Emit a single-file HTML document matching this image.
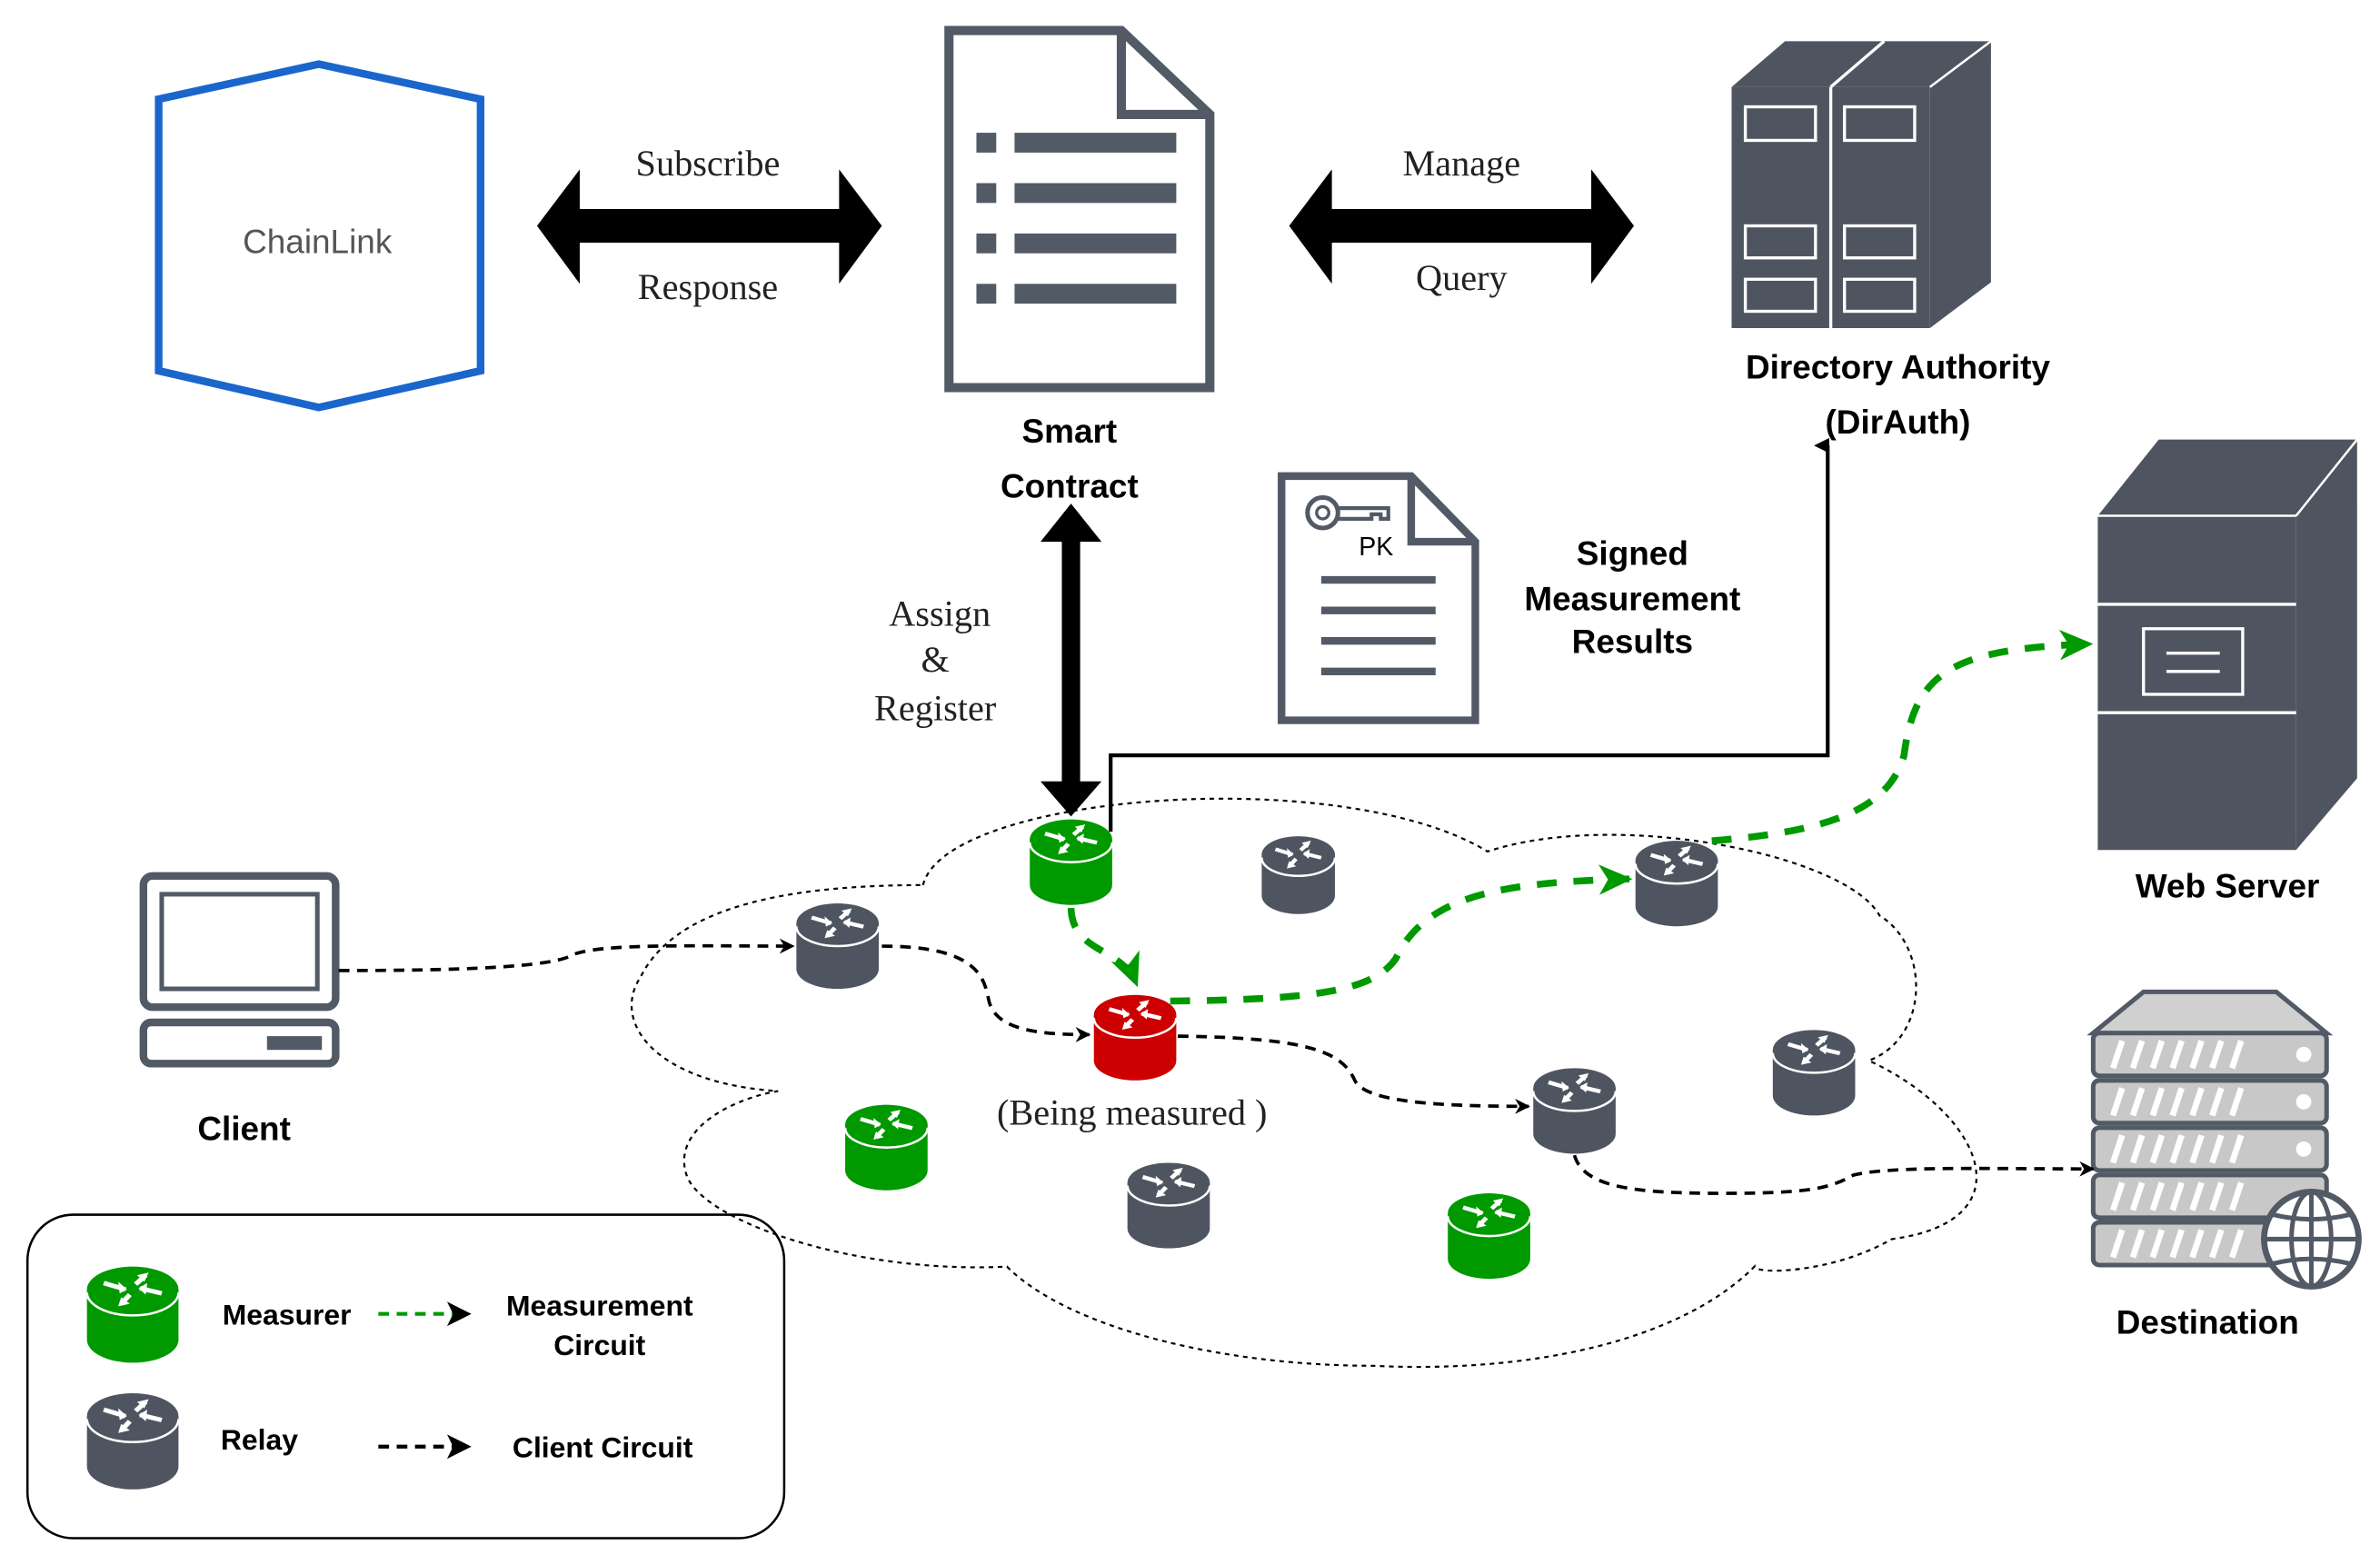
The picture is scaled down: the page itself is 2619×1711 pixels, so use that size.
<!DOCTYPE html>
<html><head><meta charset="utf-8"><style>
html,body{margin:0;padding:0;background:#fff;}
svg{display:block;}
.b{font-family:"Liberation Sans",sans-serif;font-weight:bold;fill:#000;text-anchor:middle;}
.s{font-family:"Liberation Serif",serif;fill:#222;text-anchor:middle;font-size:24px;}
</style></head><body>
<svg width="2619" height="1711" viewBox="0 0 1560 1019" preserveAspectRatio="none" xmlns="http://www.w3.org/2000/svg">
<defs>
<marker id="ak" markerWidth="10" markerHeight="10" refX="9" refY="5" orient="auto" markerUnits="userSpaceOnUse"><path d="M0,0 L10,5 L0,10 L3,5 Z" fill="#000"/></marker>
<marker id="ag" markerWidth="22" markerHeight="20" refX="20" refY="10" orient="auto" markerUnits="userSpaceOnUse"><path d="M0,0 L22,10 L0,20 L6,10 Z" fill="#009900"/></marker>
<marker id="ak2" markerWidth="16" markerHeight="16" refX="15" refY="8" orient="auto" markerUnits="userSpaceOnUse"><path d="M0,0 L16,8 L0,16 L4,8 Z" fill="#000"/></marker>
<marker id="ak3" markerWidth="10" markerHeight="10" refX="5" refY="9" orient="auto" markerUnits="userSpaceOnUse"><path d="M0,10 L5,0 L10,10 Z" fill="#000"/></marker>
<g id="arw" stroke="#fff" stroke-width="3.5" fill="#fff">
<line x1="-20" y1="-5" x2="-5" y2="0"/><path d="M-4,0 L-10,-6 L-9,3Z" stroke="none"/>
<line x1="20" y1="3" x2="5" y2="-1"/><path d="M4,-1 L10,-5 L9,4Z" stroke="none"/>
<line x1="2" y1="-4" x2="9" y2="-11"/><path d="M11,-13 L3,-11 L8,-6Z" stroke="none"/>
<line x1="-2" y1="4" x2="-8" y2="11"/><path d="M-10,13 L-2,11 L-8,6Z" stroke="none"/>
</g>
</defs>

<!-- ChainLink -->
<polygon points="104,65 209,42 315,65 315,243 209,267 104,243" fill="none" stroke="#1a66cc" stroke-width="5"/>
<text x="208" y="166" class="b" style="fill:#555;font-size:22px;font-weight:normal">ChainLink</text>

<!-- Subscribe arrow -->
<polygon points="352,148 380,111 380,137 550,137 550,111 578,148 550,186 550,159 380,159 380,186" fill="#000"/>
<text x="464" y="115" class="s">Subscribe</text>
<text x="464" y="196" class="s">Response</text>

<!-- Smart contract doc -->
<path d="M622,20 L735,20 L793,75 L793,254 L622,254 Z" fill="#fff" stroke="#525a66" stroke-width="6"/>
<path d="M735,20 L735,75 L793,75" fill="none" stroke="#525a66" stroke-width="6"/>
<g fill="#525a66">
<rect x="640" y="87" width="13" height="13"/><rect x="665" y="87" width="106" height="13"/>
<rect x="640" y="120" width="13" height="13"/><rect x="665" y="120" width="106" height="13"/>
<rect x="640" y="153" width="13" height="13"/><rect x="665" y="153" width="106" height="13"/>
<rect x="640" y="186" width="13" height="13"/><rect x="665" y="186" width="106" height="13"/>
</g>
<text x="701" y="290" class="b" font-size="22">Smart</text>
<text x="701" y="326" class="b" font-size="22">Contract</text>

<!-- Manage arrow -->
<polygon points="845,148 873,111 873,137 1043,137 1043,111 1071,148 1043,186 1043,159 873,159 873,186" fill="#000"/>
<text x="958" y="115" class="s">Manage</text>
<text x="958" y="190" class="s">Query</text>

<!-- DirAuth -->
<g fill="#4f5560">
<polygon points="1135,57 1170,27 1305,27 1265,57"/>
<polygon points="1265,57 1305,27 1305,185 1265,215"/>
<rect x="1135" y="57" width="130" height="158"/>
</g>
<polygon points="1200,57 1235,27" stroke="#fff" stroke-width="2" fill="none"/>
<line x1="1200" y1="57" x2="1200" y2="215" stroke="#fff" stroke-width="2"/>
<line x1="1265" y1="57" x2="1305" y2="27" stroke="#fff" stroke-width="1.5"/>
<g fill="none" stroke="#fff" stroke-width="2">
<rect x="1144" y="70" width="46" height="22"/><rect x="1209" y="70" width="46" height="22"/>
<rect x="1144" y="148" width="46" height="21"/><rect x="1209" y="148" width="46" height="21"/>
<rect x="1144" y="183" width="46" height="21"/><rect x="1209" y="183" width="46" height="21"/>
</g>
<text x="1244" y="248" class="b" font-size="22">Directory Authority</text>
<text x="1244" y="284" class="b" font-size="22">(DirAuth)</text>

<!-- vertical double arrow -->
<polygon points="702,330 722,355 708,355 708,512 722,512 702,535 682,512 696,512 696,355 682,355" fill="#000"/>
<text x="616" y="410" class="s" font-size="22">Assign</text>
<text x="613" y="440" class="s" font-size="22">&amp;</text>
<text x="613" y="472" class="s" font-size="22">Register</text>

<!-- PK doc -->
<path d="M840,312 L925,312 L967,355 L967,472 L840,472 Z" fill="#fff" stroke="#525a66" stroke-width="5"/>
<path d="M925,312 L925,355 L967,355" fill="none" stroke="#525a66" stroke-width="5"/>
<circle cx="867" cy="336" r="10" fill="none" stroke="#525a66" stroke-width="3"/>
<circle cx="867" cy="336" r="4" fill="none" stroke="#525a66" stroke-width="2"/>
<path d="M877,333 L910,333 L910,340 L905,340 L905,337 L899,337 L899,340 L877,340" fill="none" stroke="#525a66" stroke-width="2.5"/>
<text x="902" y="364" font-family="Liberation Sans,sans-serif" font-size="17" fill="#000" text-anchor="middle">PK</text>
<g stroke="#525a66" stroke-width="5">
<line x1="866" y1="380" x2="941" y2="380"/><line x1="866" y1="400" x2="941" y2="400"/>
<line x1="866" y1="420" x2="941" y2="420"/><line x1="866" y1="440" x2="941" y2="440"/>
</g>
<text x="1070" y="370" class="b" font-size="22">Signed</text>
<text x="1070" y="400" class="b" font-size="22">Measurement</text>
<text x="1070" y="428" class="b" font-size="22">Results</text>

<!-- line to DirAuth -->
<polyline points="728,545 728,495 1198,495 1198,292" fill="none" stroke="#000" stroke-width="2.5" marker-end="url(#ak3)"/>

<!-- Web server -->
<g fill="#4f5560">
<polygon points="1375,338 1415,288 1545,288 1505,338"/>
<polygon points="1505,338 1545,288 1545,510 1505,557"/>
<rect x="1375" y="338" width="130" height="219"/>
</g>
<line x1="1505" y1="338" x2="1545" y2="288" stroke="#fff" stroke-width="1.5"/>
<line x1="1375" y1="338" x2="1505" y2="338" stroke="#fff" stroke-width="1.5"/>
<line x1="1375" y1="396" x2="1505" y2="396" stroke="#fff" stroke-width="2"/>
<line x1="1375" y1="467" x2="1505" y2="467" stroke="#fff" stroke-width="2"/>
<rect x="1405" y="412" width="65" height="43" fill="none" stroke="#fff" stroke-width="2"/>
<line x1="1420" y1="428" x2="1455" y2="428" stroke="#fff" stroke-width="2"/>
<line x1="1420" y1="440" x2="1455" y2="440" stroke="#fff" stroke-width="2"/>
<text x="1460" y="588" class="b" font-size="22">Web Server</text>

<!-- Destination -->
<polygon points="1372,677 1405,650 1492,650 1525,677" fill="#d0d0d0" stroke="#525a66" stroke-width="3"/>
<g stroke="#525a66" stroke-width="3" fill="#c8c8c8">
<rect x="1372" y="677" width="153" height="28" rx="4"/>
<rect x="1372" y="708" width="153" height="28" rx="4"/>
<rect x="1372" y="739" width="153" height="28" rx="4"/>
<rect x="1372" y="770" width="153" height="28" rx="4"/>
<rect x="1372" y="801" width="153" height="28" rx="4"/>
</g>
<g stroke="#fff" stroke-width="4">
<path d="M1385,700 l6,-18 M1398,700 l6,-18 M1411,700 l6,-18 M1424,700 l6,-18 M1437,700 l6,-18 M1450,700 l6,-18 M1463,700 l6,-18"/>
<path d="M1385,731 l6,-18 M1398,731 l6,-18 M1411,731 l6,-18 M1424,731 l6,-18 M1437,731 l6,-18 M1450,731 l6,-18 M1463,731 l6,-18"/>
<path d="M1385,762 l6,-18 M1398,762 l6,-18 M1411,762 l6,-18 M1424,762 l6,-18 M1437,762 l6,-18 M1450,762 l6,-18 M1463,762 l6,-18"/>
<path d="M1385,793 l6,-18 M1398,793 l6,-18 M1411,793 l6,-18 M1424,793 l6,-18 M1437,793 l6,-18 M1450,793 l6,-18 M1463,793 l6,-18"/>
<path d="M1385,824 l6,-18 M1398,824 l6,-18 M1411,824 l6,-18 M1424,824 l6,-18 M1437,824 l6,-18 M1450,824 l6,-18 M1463,824 l6,-18"/>
</g>
<g fill="#fff"><circle cx="1510" cy="691" r="5"/><circle cx="1510" cy="722" r="5"/><circle cx="1510" cy="753" r="5"/></g>
<circle cx="1515" cy="812" r="31" fill="#fff" stroke="#525a66" stroke-width="4"/>
<g fill="none" stroke="#525a66" stroke-width="3">
<ellipse cx="1515" cy="812" rx="13" ry="31"/><line x1="1515" y1="781" x2="1515" y2="843"/>
<line x1="1484" y1="812" x2="1546" y2="812"/><path d="M1490,796 Q1515,802 1540,796 M1490,828 Q1515,822 1540,828"/>
</g>
<text x="1447" y="874" class="b" font-size="22">Destination</text>

<!-- Client -->
<rect x="94" y="574" width="126" height="86" rx="6" fill="none" stroke="#525a66" stroke-width="5"/>
<rect x="106" y="586" width="102" height="62" fill="none" stroke="#525a66" stroke-width="3"/>
<rect x="94" y="670" width="126" height="27" rx="5" fill="none" stroke="#525a66" stroke-width="5"/>
<rect x="175" y="679" width="36" height="9" fill="#525a66"/>
<text x="160" y="747" class="b" font-size="22">Client</text>

<!-- Cloud -->
<path d="M605,580 C620,520 880,500 975,558 C1060,530 1210,560 1232,600 C1265,620 1265,680 1225,695 C1300,730 1330,800 1240,812 C1200,835 1150,835 1150,830 C1100,880 1000,900 900,895 C800,895 700,870 660,830 C560,835 460,800 450,770 C440,740 480,720 510,715 C430,710 400,670 420,640 C440,600 500,580 605,580 Z" fill="none" stroke="#000" stroke-width="1.3" stroke-dasharray="3,3"/>

<!-- Client circuit -->
<g fill="none" stroke="#000" stroke-width="2.2" stroke-dasharray="7,5">
<path d="M222,636 C300,636 360,634 375,626 C390,618 460,620 520,620" marker-end="url(#ak)"/>
<path d="M578,620 C640,620 645,640 648,655 C652,675 680,678 714,678" marker-end="url(#ak)"/>
<path d="M772,679 C860,680 880,690 888,708 C895,722 940,725 1002,725" marker-end="url(#ak)"/>
<path d="M1032,757 C1038,778 1070,782 1130,782 C1190,782 1200,778 1215,770 C1240,764 1300,766 1372,766" marker-end="url(#ak)"/>
</g>

<!-- Measurement circuit -->
<g fill="none" stroke="#009900" stroke-width="4.5" stroke-dasharray="13,11">
<path d="M702,595 C703,625 735,620 745,645" marker-end="url(#ag)"/>
<path d="M767,656 C860,655 900,650 915,628 C935,585 990,578 1068,576" marker-end="url(#ag)"/>
<path d="M1122,551 C1200,545 1238,530 1248,495 C1255,440 1280,425 1370,422" marker-end="url(#ag)"/>
</g>

<!-- Routers -->
<g id="rg" transform="translate(702,550)">
<path d="M-27,0 L-27,30 A27,13 0 0 0 27,30 L27,0 Z" fill="#009900"/>
<ellipse cx="0" cy="0" rx="27" ry="13" fill="#009900"/>
<path d="M-27,2 A27,13 0 0 0 27,2" fill="none" stroke="#fff" stroke-width="1.5"/>
<use href="#arw" transform="scale(0.85,0.75)"/>
</g>
<g transform="translate(581,737)">
<path d="M-27,0 L-27,30 A27,13 0 0 0 27,30 L27,0 Z" fill="#009900"/><ellipse rx="27" ry="13" fill="#009900"/>
<path d="M-27,2 A27,13 0 0 0 27,2" fill="none" stroke="#fff" stroke-width="1.5"/><use href="#arw" transform="scale(0.85,0.75)"/></g>
<g transform="translate(976,795)">
<path d="M-27,0 L-27,30 A27,13 0 0 0 27,30 L27,0 Z" fill="#009900"/><ellipse rx="27" ry="13" fill="#009900"/>
<path d="M-27,2 A27,13 0 0 0 27,2" fill="none" stroke="#fff" stroke-width="1.5"/><use href="#arw" transform="scale(0.85,0.75)"/></g>
<g transform="translate(744,665)">
<path d="M-27,0 L-27,30 A27,13 0 0 0 27,30 L27,0 Z" fill="#cc0000"/><ellipse rx="27" ry="13" fill="#cc0000"/>
<path d="M-27,2 A27,13 0 0 0 27,2" fill="none" stroke="#fff" stroke-width="1.5"/><use href="#arw" transform="scale(0.85,0.75)"/></g>
<g fill="#4f5560">
<g transform="translate(851,560)"><path d="M-24,0 L-24,27 A24,12 0 0 0 24,27 L24,0 Z"/><ellipse rx="24" ry="12"/><path d="M-24,2 A24,12 0 0 0 24,2" fill="none" stroke="#fff" stroke-width="1.5"/><use href="#arw" transform="scale(0.75,0.7)"/></g>
<g transform="translate(549,605)"><path d="M-27,0 L-27,30 A27,13 0 0 0 27,30 L27,0 Z"/><ellipse rx="27" ry="13"/><path d="M-27,2 A27,13 0 0 0 27,2" fill="none" stroke="#fff" stroke-width="1.5"/><use href="#arw" transform="scale(0.85,0.75)"/></g>
<g transform="translate(1099,564)"><path d="M-27,0 L-27,30 A27,13 0 0 0 27,30 L27,0 Z"/><ellipse rx="27" ry="13"/><path d="M-27,2 A27,13 0 0 0 27,2" fill="none" stroke="#fff" stroke-width="1.5"/><use href="#arw" transform="scale(0.85,0.75)"/></g>
<g transform="translate(1189,688)"><path d="M-27,0 L-27,30 A27,13 0 0 0 27,30 L27,0 Z"/><ellipse rx="27" ry="13"/><path d="M-27,2 A27,13 0 0 0 27,2" fill="none" stroke="#fff" stroke-width="1.5"/><use href="#arw" transform="scale(0.85,0.75)"/></g>
<g transform="translate(1032,713)"><path d="M-27,0 L-27,30 A27,13 0 0 0 27,30 L27,0 Z"/><ellipse rx="27" ry="13"/><path d="M-27,2 A27,13 0 0 0 27,2" fill="none" stroke="#fff" stroke-width="1.5"/><use href="#arw" transform="scale(0.85,0.75)"/></g>
<g transform="translate(766,775)"><path d="M-27,0 L-27,30 A27,13 0 0 0 27,30 L27,0 Z"/><ellipse rx="27" ry="13"/><path d="M-27,2 A27,13 0 0 0 27,2" fill="none" stroke="#fff" stroke-width="1.5"/><use href="#arw" transform="scale(0.85,0.75)"/></g>
</g>
<text x="742" y="737" class="s" font-size="22">(Being measured )</text>

<!-- Legend -->
<rect x="18" y="796" width="496" height="212" rx="30" fill="none" stroke="#000" stroke-width="1.5"/>
<g transform="translate(87,845)">
<path d="M-30,0 L-30,33 A30,15 0 0 0 30,33 L30,0 Z" fill="#009900"/><ellipse rx="30" ry="15" fill="#009900"/>
<path d="M-30,2 A30,15 0 0 0 30,2" fill="none" stroke="#fff" stroke-width="1.5"/><use href="#arw" transform="scale(0.95,0.85)"/></g>
<g transform="translate(87,928)">
<path d="M-30,0 L-30,33 A30,15 0 0 0 30,33 L30,0 Z" fill="#4f5560"/><ellipse rx="30" ry="15" fill="#4f5560"/>
<path d="M-30,2 A30,15 0 0 0 30,2" fill="none" stroke="#fff" stroke-width="1.5"/><use href="#arw" transform="scale(0.95,0.85)"/></g>
<text x="188" y="868" class="b" font-size="19">Measurer</text>
<line x1="248" y1="861" x2="308" y2="861" stroke="#009900" stroke-width="2.5" stroke-dasharray="7,5" marker-end="url(#ak2)"/>
<text x="393" y="862" class="b" font-size="19">Measurement</text>
<text x="393" y="888" class="b" font-size="19">Circuit</text>
<text x="170" y="950" class="b" font-size="19">Relay</text>
<line x1="248" y1="948" x2="308" y2="948" stroke="#000" stroke-width="2.5" stroke-dasharray="7,5" marker-end="url(#ak2)"/>
<text x="395" y="955" class="b" font-size="19">Client Circuit</text>
</svg>
</body></html>
